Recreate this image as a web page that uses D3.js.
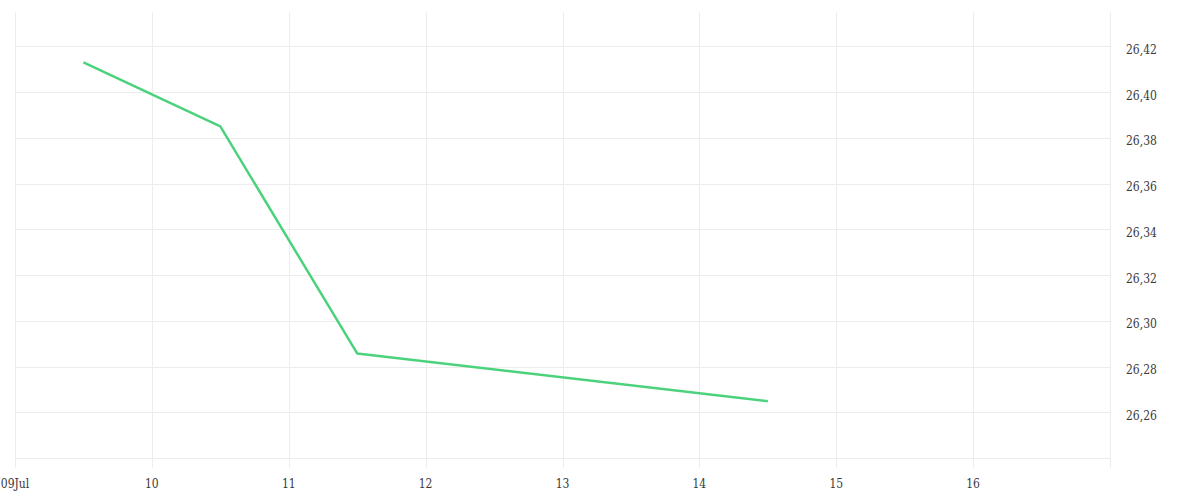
<!DOCTYPE html>
<html>
<head>
<meta charset="utf-8">
<script src="https://cdn.jsdelivr.net/npm/d3@7"></script>
<style>
  body { margin: 0; background: #fff; }
  svg { display: block; font-family: "DejaVu Serif Condensed", "DejaVu Serif", serif; font-stretch: condensed; }
</style>
</head>
<body>
<svg width="1200" height="500"></svg>
<script>
// data
const dates = ["2024-07-09T12:00", "2024-07-10T12:00", "2024-07-11T12:00", "2024-07-14T12:00"];
const values = [26.413, 26.385, 26.2857, 26.2648];
const yTicks = [26.26, 26.28, 26.30, 26.32, 26.34, 26.36, 26.38, 26.40, 26.42];
const yGrid = [26.24, 26.26, 26.28, 26.30, 26.32, 26.34, 26.36, 26.38, 26.40, 26.42];

const svg = d3.select("svg");
const plotLeft = 15, plotRight = 1110, plotTop = 12, plotBottom = 458;

const parse = d3.timeParse("%Y-%m-%dT%H:%M");
const points = dates.map((d, i) => ({ date: parse(d), value: values[i] }));

const x = d3.scaleTime()
    .domain([new Date(2024, 6, 9), new Date(2024, 6, 17)])
    .range([plotLeft, plotRight]);
const y = d3.scaleLinear()
    .domain([26.24, 26.435])
    .range([plotBottom, plotTop]);

const grid = svg.append("g").attr("stroke", "#ececec").attr("stroke-width", 1);

// vertical grid (one per day), running a little past the bottom as ticks
const days = d3.timeDay.range(new Date(2024, 6, 9), new Date(2024, 6, 18));
grid.selectAll("line.v")
    .data(days)
    .join("line")
    .attr("class", "v")
    .attr("x1", d => Math.round(x(d)) + 0.5)
    .attr("x2", d => Math.round(x(d)) + 0.5)
    .attr("y1", plotTop)
    .attr("y2", plotBottom + 10);

// horizontal grid
grid.selectAll("line.h")
    .data(yGrid)
    .join("line")
    .attr("class", "h")
    .attr("x1", plotLeft)
    .attr("x2", plotRight)
    .attr("y1", d => Math.round(y(d)) + 0.5)
    .attr("y2", d => Math.round(y(d)) + 0.5);

// x labels
const fmtDay = d => d.getDate() === 9 ? d3.timeFormat("%dJul")(d) : d3.timeFormat("%d")(d);
svg.append("g")
    .selectAll("text")
    .data(days.slice(0, 8))
    .join("text")
    .attr("x", d => x(d))
    .attr("y", 487.5)
    .attr("text-anchor", "middle")
    .attr("font-size", 12)
    .attr("fill", "#3a3a3a")
    .text(fmtDay);

// right y labels
const fmtY = d => d.toFixed(2).replace(".", ",");
svg.append("g")
    .selectAll("text")
    .data(yTicks)
    .join("text")
    .attr("x", 1126)
    .attr("y", d => y(d) + 7.5)
    .attr("font-size", 12)
    .attr("fill", "#3a3a3a")
    .text(fmtY);

// the line
const line = d3.line()
    .x(d => x(d.date))
    .y(d => y(d.value));

svg.append("path")
    .datum(points)
    .attr("fill", "none")
    .attr("stroke", "#4cd27c")
    .attr("stroke-width", 2.5)
    .attr("stroke-linejoin", "round")
    .attr("d", line);
</script>
</body>
</html>
